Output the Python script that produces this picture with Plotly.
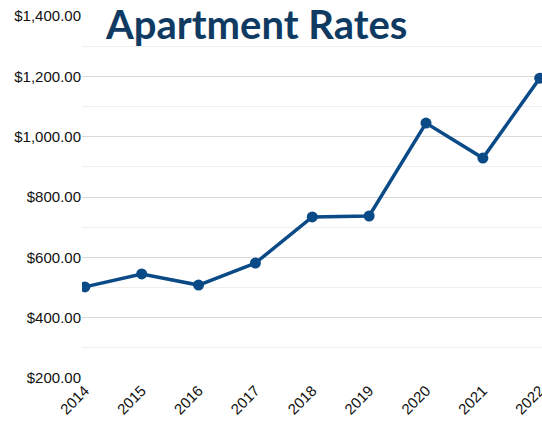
import plotly.graph_objects as go

years = [2014, 2015, 2016, 2017, 2018, 2019, 2020, 2021, 2022]
rates = [502, 545, 508, 581, 734, 737, 1045, 929, 1194]
y_ticks = [200, 400, 600, 800, 1000, 1200, 1400]

line_color = "#0a4a87"
title_color = "#0f3b63"

W, H = 542, 423

fig = go.Figure()
fig.add_trace(go.Scatter(
    x=years, y=rates, mode="lines+markers",
    line=dict(color=line_color, width=3.5),
    marker=dict(color=line_color, size=11),
    cliponaxis=True,
))

fig.update_layout(
    width=W, height=H,
    margin=dict(l=82, r=0, t=16, b=45, autoexpand=False),
    paper_bgcolor="white", plot_bgcolor="white",
    showlegend=False,
    font=dict(family="Liberation Sans, Arial, sans-serif", size=15, color="#111111"),
    title=dict(text="<b>Apartment Rates</b>", x=106/W, xanchor="left", xref="container",
               y=1 - 25/H, yanchor="middle", yref="container",
               font=dict(family="Lato, Open Sans, sans-serif", size=40, color=title_color)),
    xaxis=dict(range=[2013.95, 2022.04], tickvals=years, ticktext=[str(y) for y in years],
               tickangle=-45, showgrid=False, zeroline=False, showline=False, ticks="",
               automargin=False, ticklabeloverflow="allow", tickfont=dict(size=15)),
    yaxis=dict(range=[200, 1400], tickvals=y_ticks, tickformat="$,.2f",
               gridcolor="#d9d9d9", gridwidth=1, zeroline=False, showline=False, ticks="",
               automargin=False, ticklabeloverflow="allow",
               minor=dict(tickvals=[300, 500, 700, 900, 1100, 1300], showgrid=True,
                          gridcolor="#efefef", gridwidth=1),
               tickfont=dict(size=15)),
)

fig.write_html(
    "out.html",
    config={"displayModeBar": False},
    post_script="document.body.style.margin='0';document.body.style.overflow='hidden';"
                "document.documentElement.style.overflow='hidden';",
)
